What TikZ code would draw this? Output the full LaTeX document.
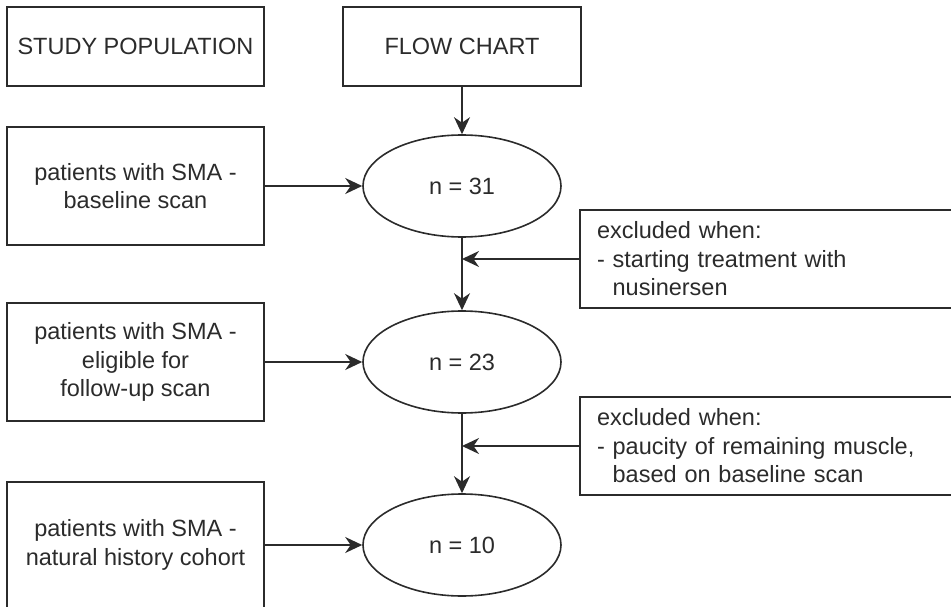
\documentclass[tikz,border=0pt]{standalone}
\usepackage{fontspec}
\setmainfont{Liberation Sans}
\usetikzlibrary{positioning,shapes.geometric,arrows.meta}

\definecolor{ink}{HTML}{2B2B2B}

\begin{document}
\begin{tikzpicture}[x=1pt, y=-1pt, on grid, line width=1.6pt, color=ink,
        font=\fontsize{23.5}{28.5}\selectfont,
        >={Stealth[length=17pt, width=16pt, inset=5.5pt]},
        box/.style={draw, rectangle, minimum width=257pt, minimum height=118pt, inner sep=0pt, align=center},
        count/.style={draw, ellipse, minimum width=198pt, minimum height=102pt, inner sep=0pt},
        excl/.style={draw, rectangle, text width=346pt, inner xsep=17pt, minimum height=98pt, align=left}]
        \useasboundingbox (0,0) rectangle (951,607);
        \clip (0,0) rectangle (951,607);

        \node[box, minimum height=79pt] (study) at (135.5,46.5) {STUDY POPULATION};
        \node[box, minimum width=238pt, minimum height=79pt, right=326.5pt of study] (flow) {FLOW CHART};

        \node[count, below=139.5pt of flow] (n31) {n = 31};
        \node[count, below=176pt of n31] (n23) {n = 23};
        \node[count, below=183pt of n23] (n10) {n = 10};

        \node[box, left=326.5pt of n31] (base) {patients with SMA -\\ baseline scan};
        \node[box, left=326.5pt of n23] (elig) {patients with SMA -\\ eligible for\\ follow-up scan};
        \node[box, minimum height=126pt, left=326.5pt of n10] (hist) {patients with SMA -\\ natural history cohort};

        \node[excl, below right=73pt and 308pt of n31] (ex1) {excluded when:\\- starting treatment with\\\phantom{- }nusinersen};
        \node[excl, below right=84pt and 308pt of n23] (ex2) {excluded when:\\- paucity of remaining muscle,\\\phantom{- }based on baseline scan};

        \path[->]
        (flow) edge (n31)
        (n31) edge (n23)
        (n23) edge (n10)
        (base) edge (n31)
        (elig) edge (n23)
        (hist) edge (n10)
        (ex1) edge (ex1.west -| n31.south)
        (ex2) edge (ex2.west -| n23.south);
\end{tikzpicture}
\end{document}
